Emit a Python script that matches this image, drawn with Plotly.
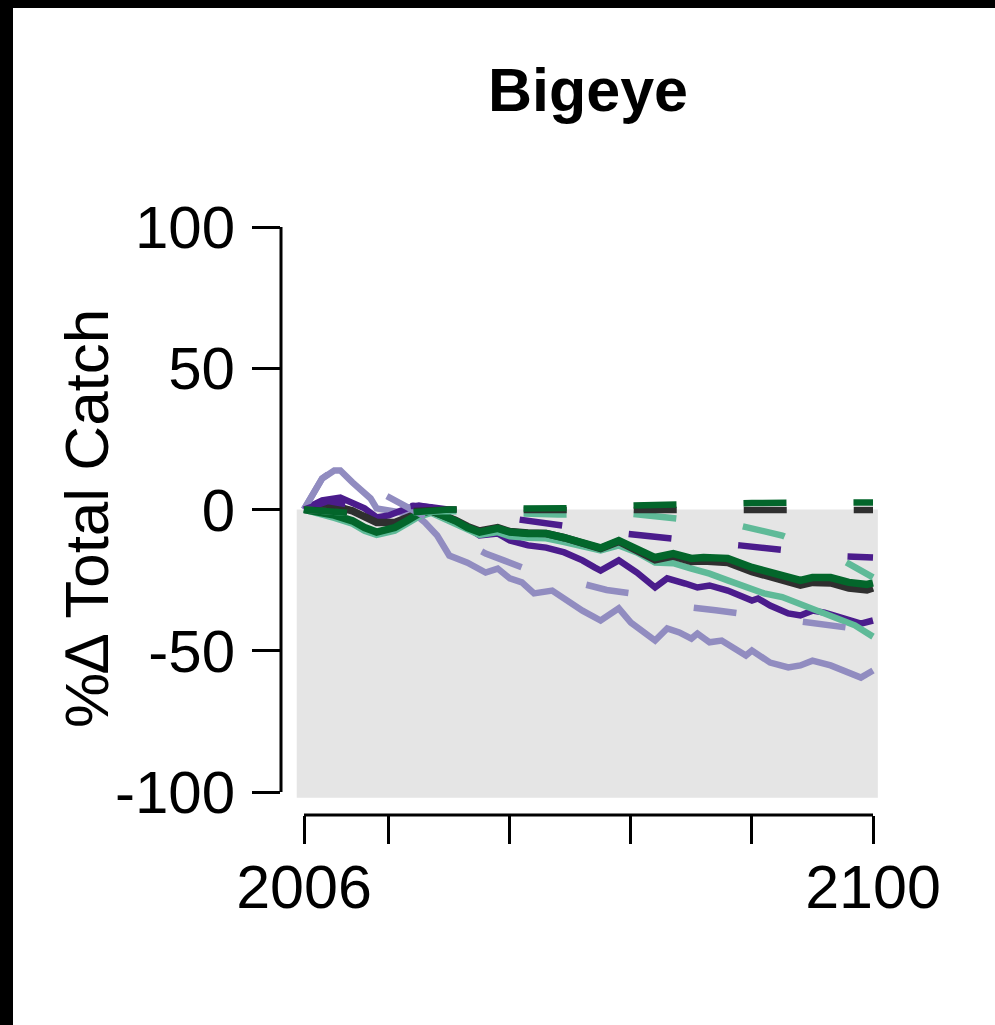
import plotly.graph_objects as go

# ---------------- data ----------------
x_tick_vals = [2006, 2020, 2040, 2060, 2080, 2100]
x_tick_text = ["2006", "", "", "", "", "2100"]
y_tick_vals = [-100, -50, 0, 50, 100]
y_tick_text = ["-100", "-50", "0", "50", "100"]

# solid series
lpurple_years = [2006, 2009, 2011, 2012, 2014, 2017, 2018, 2020, 2023, 2025,
                 2026, 2028, 2030, 2033, 2036, 2038, 2040, 2042, 2044, 2047,
                 2049, 2052, 2055, 2058, 2060, 2064, 2066, 2068, 2070, 2071,
                 2073, 2075, 2079, 2080, 2083, 2086, 2088, 2090, 2093, 2096,
                 2098, 2100]
lpurple_vals = [0, 11, 13.8, 13.8, 9.6, 3.9, 0.4, -0.4, -1.4, -2.8,
                -4.6, -9.2, -16.3, -18.8, -22.3, -20.9, -24.4, -25.8, -29.7, -28.7,
                -31.5, -35.8, -39.3, -35, -40, -46.4, -42.1, -43.5, -45.7, -43.9,
                -47, -46.4, -51.7, -49.9, -54.2, -55.9, -55.2, -53.5, -55.2, -58,
                -59.5, -57]

dpurple_years = [2006, 2009, 2012, 2014, 2016, 2018, 2020, 2023, 2025, 2027,
                 2029, 2031, 2033, 2035, 2038, 2040, 2043, 2046, 2049, 2052,
                 2054, 2055, 2058, 2061, 2064, 2066, 2069, 2071, 2073, 2074,
                 2076, 2080, 2081, 2083, 2086, 2088, 2090, 2092, 2095, 2098,
                 2100]
dpurple_vals = [0, 3.2, 4.2, 2.5, 0.4, -2.8, -2.1, 0.4, 1.4, 0.7,
                -1.4, -3.9, -6.4, -9.2, -8.5, -11, -12.7, -13.5, -15.2, -18,
                -20.5, -21.6, -18, -22.3, -27.6, -24.4, -26.2, -27.6, -26.9, -27.6,
                -28.7, -32.2, -31.5, -34, -36.8, -37.5, -35.8, -36.5, -38.2, -40.4,
                -39.3]

teal_years = [2006, 2009, 2011, 2014, 2016, 2018, 2021, 2023, 2025, 2027,
              2029, 2031, 2033, 2035, 2038, 2040, 2043, 2046, 2049, 2052,
              2055, 2058, 2061, 2064, 2067, 2070, 2073, 2076, 2079, 2082,
              2085, 2088, 2091, 2094, 2097, 2100]
teal_vals = [0, -1.5, -3, -5, -7.5, -9, -7.5, -5, -2.5, -1.2,
             -3, -5, -7, -9, -8, -9.5, -10, -10.2, -11.5, -13,
             -14.5, -12.7, -15.2, -18.8, -19, -20.9, -22.7, -25.1, -27.6, -29.7,
             -31, -33.5, -35.5, -38, -41, -45]

black_years = [2006, 2009, 2011, 2014, 2016, 2018, 2021, 2023, 2025, 2027,
               2029, 2031, 2033, 2035, 2038, 2040, 2043, 2046, 2049, 2052,
               2053, 2055, 2058, 2061, 2064, 2067, 2070, 2072, 2074, 2076,
               2080, 2083, 2086, 2088, 2090, 2093, 2096, 2099, 2100]
black_vals = [0, 1, 1.2, -0.5, -2.8, -4.6, -4.6, -3, -1.2, -0.5,
              -2, -3.8, -6, -7.6, -6.4, -7.8, -8.3, -8.5, -10, -11.7,
              -12.7, -13.8, -11.3, -14.3, -17.8, -16.5, -18.4, -18.2, -18.6, -18.8,
              -22, -23.8, -26, -26.8, -25.8, -26, -27.8, -28.5, -27.8]

green_years = [2006, 2009, 2011, 2014, 2016, 2018, 2021, 2023, 2025, 2027,
               2029, 2031, 2033, 2035, 2038, 2040, 2043, 2046, 2049, 2052,
               2053, 2055, 2058, 2061, 2064, 2067, 2070, 2072, 2074, 2076,
               2080, 2083, 2086, 2088, 2090, 2093, 2096, 2099, 2100]
green_vals = [0, -1, -2, -4, -6.4, -8, -6.4, -4, -1.4, -0.4,
              -2, -4, -6.4, -8, -6.7, -8, -8.5, -8.5, -10, -11.7,
              -12.7, -13.6, -11, -13.8, -17, -15.6, -17.3, -17, -17.3, -17.3,
              -20.5, -22.3, -24.4, -25.1, -24.1, -24.1, -25.8, -26.5, -26]

# dashed series
lpurple_d_years = [2006, 2009, 2011, 2013, 2016, 2020, 2023, 2026, 2029, 2032,
                   2036, 2039, 2042, 2047, 2053, 2056, 2060, 2065, 2070, 2074,
                   2078, 2083, 2088, 2092, 2096, 2100]
lpurple_d_vals = [0, 11, 14, 13, 9, 4.5, 1, -2, -6, -11,
                  -15.6, -18, -20.5, -23.5, -26.9, -28.5, -29.7, -32, -34.7, -35.7,
                  -36.8, -38.5, -40, -41, -41.8, -43]

dpurple_d_years = [2006, 2010, 2014, 2018, 2021, 2024, 2027, 2031, 2036, 2041,
                   2048, 2053, 2059, 2066, 2072, 2078, 2085, 2090, 2095, 2100]
dpurple_d_vals = [0, 3, 1.5, -1, 0.5, 1.3, 0.8, -0.4, -2, -3.9,
                  -5.7, -7, -8.5, -10.3, -11.5, -12.7, -14.2, -15.5, -16.6, -17]

teal_d_years = [2006, 2012, 2018, 2024, 2030, 2036, 2042, 2048, 2055, 2060,
                2066, 2072, 2078, 2085, 2090, 2095, 2100]
teal_d_vals = [0, -1, -2, -1, -0.5, -1, -1.3, -1.8, -1.5, -1.5,
               -2.8, -4, -5.7, -9.2, -13.5, -18, -24]

black_d_years = [2006, 2012, 2018, 2024, 2030, 2040, 2050, 2060, 2070, 2080, 2090, 2100]
black_d_vals = [0, -0.5, -1.5, -0.5, 0, -0.2, -0.2, -0.2, -0.2, -0.2, -0.2, -0.2]

green_d_years = [2006, 2012, 2018, 2024, 2030, 2040, 2050, 2060, 2066, 2075, 2080, 2090, 2100]
green_d_vals = [0, -1, -2, -1, 0, 0.3, 0.5, 1.4, 1.5, 1.8, 2.3, 2.5, 2.5]

# ---------------- styling ----------------
C_LPURPLE = "#918cc0"
C_DPURPLE = "#4b1c8c"
C_TEAL = "#5fba98"
C_BLACK = "#2f2f2f"
C_GREEN = "#03662b"
FONT = "Liberation Sans, Arial, Helvetica, sans-serif"
DASH = "43px,67px"

W, H = 995, 1025
ML, MR, MT, MB = 281, 99, 204, 210
PW, PH = W - ML - MR, H - MT - MB


def px_x(px):
    return (px - ML) / PW


def px_y(py):
    return (H - MB - py) / PH


fig = go.Figure()

solid = [
    (lpurple_years, lpurple_vals, C_LPURPLE, 6.5),
    (dpurple_years, dpurple_vals, C_DPURPLE, 6.5),
    (teal_years, teal_vals, C_TEAL, 6.5),
    (black_years, black_vals, C_BLACK, 7.5),
    (green_years, green_vals, C_GREEN, 7.5),
]
dashed = [
    (lpurple_d_years, lpurple_d_vals, C_LPURPLE, 6.5),
    (dpurple_d_years, dpurple_d_vals, C_DPURPLE, 6.5),
    (teal_d_years, teal_d_vals, C_TEAL, 6.5),
    (black_d_years, black_d_vals, C_BLACK, 6.5),
    (green_d_years, green_d_vals, C_GREEN, 6.5),
]
for xs, ys, col, w in solid:
    fig.add_trace(go.Scatter(x=xs, y=ys, mode="lines",
                             line=dict(color=col, width=w), showlegend=False,
                             hoverinfo="skip"))
for xs, ys, col, w in dashed:
    fig.add_trace(go.Scatter(x=xs, y=ys, mode="lines",
                             line=dict(color=col, width=w, dash=DASH),
                             showlegend=False, hoverinfo="skip"))

x_lo = 2006 - 23 / (569 / 94)
x_hi = 2100 + 23 / (569 / 94)
y_ext = 100 + 23 / (565 / 200)

shapes = [
    # grey background for negative values
    dict(type="rect", xref="x", yref="y", x0=2004.8, x1=2100.8, y0=-102, y1=0,
         fillcolor="#e5e5e5", line=dict(width=0), layer="below"),
    # y axis line
    dict(type="line", xref="paper", yref="y", x0=0, x1=0, y0=-100, y1=100,
         line=dict(color="black", width=3)),
    # x axis line
    dict(type="line", xref="x", yref="paper", x0=2006, x1=2100, y0=0, y1=0,
         line=dict(color="black", width=3)),
    # black frame edges (left, top)
    dict(type="rect", xref="paper", yref="paper", x0=px_x(0), x1=px_x(13),
         y0=px_y(H), y1=px_y(0), fillcolor="black", line=dict(width=0)),
    dict(type="rect", xref="paper", yref="paper", x0=px_x(0), x1=px_x(W),
         y0=px_y(8), y1=px_y(0), fillcolor="black", line=dict(width=0)),
]

fig.update_layout(
    width=W, height=H, autosize=False,
    margin=dict(l=ML, r=MR, t=MT, b=MB, pad=0),
    paper_bgcolor="white", plot_bgcolor="white",
    font=dict(family=FONT, color="black"),
    title=dict(text="Bigeye", x=588 / W, xref="container", xanchor="center",
               y=1 - 90 / H, yref="container", yanchor="middle",
               font=dict(family=FONT, size=61, weight="bold", color="black")),
    shapes=shapes,
    annotations=[dict(text="%\u2206 Total Catch", textangle=-90, showarrow=False,
                      xref="paper", yref="paper", x=px_x(86), y=px_y(519),
                      xanchor="center", yanchor="middle",
                      font=dict(family=FONT, size=62, color="black"))],
    xaxis=dict(range=[x_lo, x_hi], showgrid=False, zeroline=False, showline=False,
               tickmode="array", tickvals=x_tick_vals, ticktext=x_tick_text,
               ticks="outside", ticklen=28, tickwidth=3, tickcolor="black",
               ticklabelstandoff=-9,
               tickfont=dict(family=FONT, size=61, color="black")),
    yaxis=dict(range=[-y_ext, y_ext], showgrid=False, zeroline=False, showline=False,
               tickmode="array", tickvals=y_tick_vals, ticktext=y_tick_text,
               ticks="outside", ticklen=28, tickwidth=3, tickcolor="black",
               ticklabelstandoff=5,
               tickfont=dict(family=FONT, size=60, color="black")),
)

fig.write_html("out.html")
